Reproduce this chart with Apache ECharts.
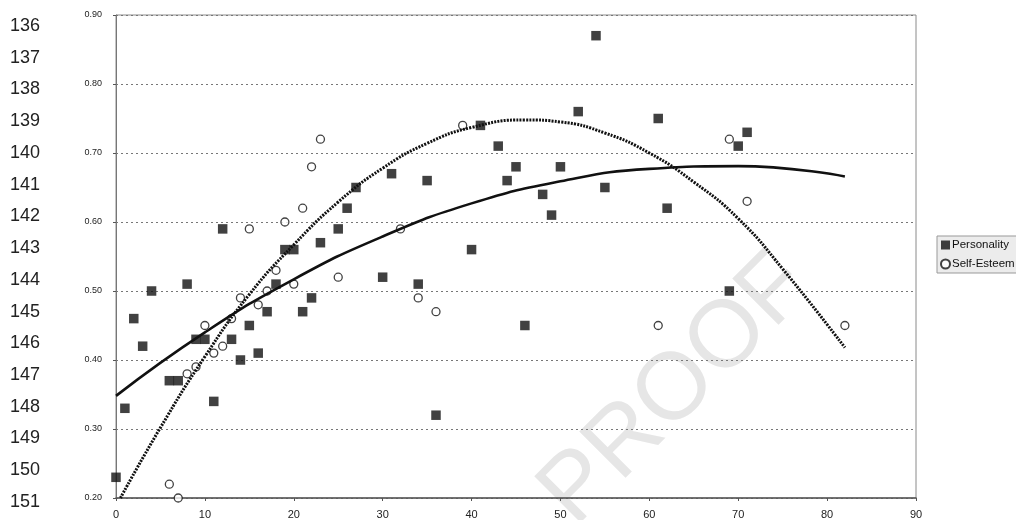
<!DOCTYPE html>
<html>
<head>
<meta charset="utf-8">
<script src="https://cdn.jsdelivr.net/npm/echarts@6/dist/echarts.min.js"></script>
<style>
  html, body { margin: 0; padding: 0; background: #fff; }
  #chart { width: 1016px; height: 520px; }
</style>
</head>
<body>
<div id="chart"></div>
<script>
// page line numbers down the left margin
const lineNumbers = ['136', '137', '138', '139', '140', '141', '142', '143',
  '144', '145', '146', '147', '148', '149', '150', '151'];

// Personality (filled squares)
const personalityX = [0, 1, 2, 3, 4, 6, 7, 8, 9, 10, 11, 12, 13, 14, 15, 16, 17, 18, 19, 20,
  21, 22, 23, 25, 26, 27, 30, 31, 34, 35, 36, 40, 41, 43, 44, 45, 46, 48, 49, 50,
  52, 54, 55, 61, 62, 69, 70, 71];
const personalityY = [0.23, 0.33, 0.46, 0.42, 0.50, 0.37, 0.37, 0.51, 0.43, 0.43, 0.34, 0.59, 0.43, 0.40, 0.45, 0.41, 0.47, 0.51, 0.56, 0.56,
  0.47, 0.49, 0.57, 0.59, 0.62, 0.65, 0.52, 0.67, 0.51, 0.66, 0.32, 0.56, 0.74, 0.71, 0.66, 0.68, 0.45, 0.64, 0.61, 0.68,
  0.76, 0.87, 0.65, 0.75, 0.62, 0.50, 0.71, 0.73];

// Self-Esteem (open circles)
const esteemX = [6, 7, 8, 9, 10, 11, 12, 13, 14, 15, 16, 17, 18, 19, 20, 21, 22, 23, 25,
  32, 34, 36, 39, 61, 69, 71, 82];
const esteemY = [0.22, 0.20, 0.38, 0.39, 0.45, 0.41, 0.42, 0.46, 0.49, 0.59, 0.48, 0.50, 0.53, 0.60, 0.51, 0.62, 0.68, 0.72, 0.52,
  0.59, 0.49, 0.47, 0.74, 0.45, 0.72, 0.63, 0.45];

// trend lines
const personalityTrendX = [0, 10, 20, 30, 40, 50, 60, 70, 82];
const personalityTrendY = [0.348, 0.440, 0.517, 0.579, 0.627, 0.659, 0.677, 0.681, 0.666];
const esteemTrendX = [0.5, 5, 10, 15, 20, 25, 30, 35, 40, 46, 50, 55, 60, 65, 70, 75, 82];
const esteemTrendY = [0.20, 0.302, 0.405, 0.495, 0.567, 0.629, 0.678, 0.714, 0.737, 0.748, 0.745, 0.729, 0.700, 0.658, 0.605, 0.532, 0.418];

const zip = (xs, ys) => xs.map((x, i) => [x, ys[i]]);
const FONT = 'Liberation Sans, Arial, sans-serif';

const chart = echarts.init(document.getElementById('chart'), null, { renderer: 'canvas' });

const graphics = lineNumbers.map((t, i) => ({
  type: 'text',
  left: 10,
  top: 27 + i * 31.73 - 10,
  style: { text: t, fontSize: 18, fontFamily: FONT, fill: '#222' },
  silent: true
}));
// faint watermark
graphics.push({
  type: 'text',
  x: 676,
  y: 390,
  rotation: Math.PI / 4,
  z: -10,
  silent: true,
  style: {
    text: 'PROOF',
    fontSize: 95,
    fontFamily: FONT,
    fill: '#e6e6e6',
    align: 'center',
    verticalAlign: 'middle'
  }
});

chart.setOption({
  animation: false,
  backgroundColor: '#fff',
  graphic: graphics,
  grid: {
    left: 116, top: 15, width: 800, height: 485,
    show: true, borderColor: '#8a8a8a', borderWidth: 1
  },
  legend: {
    data: ['Personality', 'Self-Esteem'],
    orient: 'vertical',
    left: 937, top: 236,
    itemWidth: 9, itemHeight: 9, itemGap: 7,
    padding: [3, 4, 3, 3],
    backgroundColor: '#ececec',
    borderColor: '#999', borderWidth: 1,
    textStyle: { fontSize: 11.5, fontFamily: FONT, color: '#111', lineHeight: 12, padding: [0, 0, 0, -3] }
  },
  xAxis: {
    type: 'value', min: 0, max: 90, interval: 10,
    axisLine: { lineStyle: { color: '#555', width: 1.5 } },
    axisTick: { show: true, length: 3, inside: false, lineStyle: { color: '#555' } },
    axisLabel: { fontSize: 11, fontFamily: FONT, color: '#222', margin: 11 },
    splitLine: { show: false }
  },
  yAxis: {
    type: 'value', min: 0.2, max: 0.9, interval: 0.1,
    axisLine: { show: true, lineStyle: { color: '#777', width: 1 } },
    axisTick: { show: true, length: 3, lineStyle: { color: '#555' } },
    axisLabel: { fontSize: 9, fontFamily: FONT, color: '#222', margin: 14,
      formatter: v => v.toFixed(2) },
    splitLine: { show: true, lineStyle: { color: '#777', width: 1, type: [2, 3] } }
  },
  series: [
    {
      name: 'Personality', type: 'scatter',
      symbol: 'rect', symbolSize: 9.5,
      itemStyle: { color: '#111' },
      data: zip(personalityX, personalityY), z: 3
    },
    {
      name: 'Self-Esteem', type: 'scatter',
      symbol: 'circle', symbolSize: 8,
      itemStyle: { color: '#fff', borderColor: '#111', borderWidth: 1.3 },
      data: zip(esteemX, esteemY), z: 3
    },
    {
      name: 'Personality trend', type: 'line', smooth: true, showSymbol: false, silent: true,
      lineStyle: { color: '#111', width: 2.6 },
      data: zip(personalityTrendX, personalityTrendY), z: 4
    },
    {
      name: 'Self-Esteem trend', type: 'line', smooth: true, showSymbol: false, silent: true,
      lineStyle: { color: '#111', width: 3, type: [2, 1.2] },
      data: zip(esteemTrendX, esteemTrendY), z: 4
    }
  ]
});
</script>
</body>
</html>
